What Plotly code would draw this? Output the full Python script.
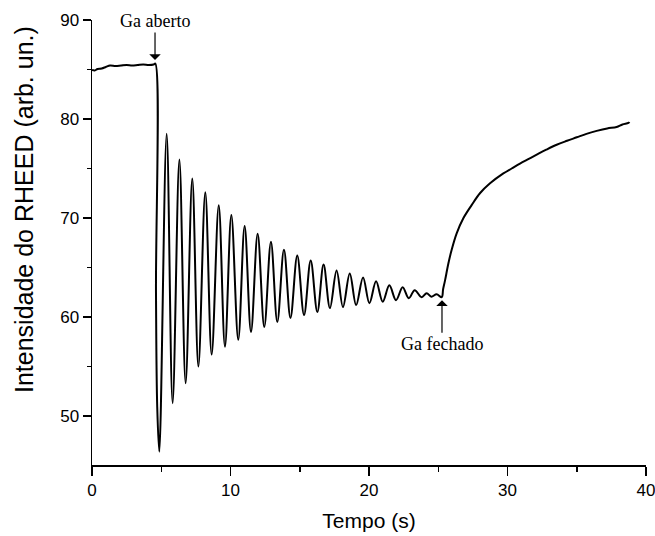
import plotly.graph_objects as go

# ---- data ----
plateau_t = [0.0, 0.2, 0.4, 0.7, 1.0, 1.3, 1.7, 2.1, 2.5, 2.9, 3.3, 3.7, 4.1, 4.45, 4.57]
plateau_i = [84.95, 84.9, 85.05, 85.1, 85.25, 85.4, 85.35, 85.4, 85.45, 85.4, 85.45, 85.5, 85.45, 85.5, 85.6]

osc_t = [4.62, 4.71, 4.86, 5.39, 5.82, 6.31, 6.76, 7.24, 7.68, 8.18, 8.64, 9.15, 9.60,
         10.06, 10.56, 11.02, 11.48, 11.96, 12.44, 12.92, 13.38, 13.86, 14.33, 14.82,
         15.31, 15.79, 16.27, 16.72, 17.18, 17.66, 18.12, 18.61, 19.07, 19.57, 20.03,
         20.51, 20.99, 21.47, 21.95, 22.43, 22.87, 23.30, 23.80, 24.16, 24.50, 24.88, 25.25]
osc_i = [62.4, 50.9, 46.4, 78.5, 51.3, 75.9, 53.3, 74.0, 55.0, 72.6, 56.2, 71.3, 57.0,
         70.3, 57.7, 69.2, 58.5, 68.4, 59.0, 67.6, 59.5, 66.8, 59.9, 66.2,
         60.2, 65.7, 60.5, 65.3, 60.9, 64.7, 61.0, 64.4, 61.2, 64.0, 61.4,
         63.6, 61.55, 63.2, 61.7, 63.0, 61.9, 62.7, 62.0, 62.4, 62.05, 62.3, 62.0]

recovery_t = [25.35, 25.49, 25.73, 25.97, 26.33, 26.81, 27.41, 28.01, 28.74, 29.70, 30.3,
              30.90, 31.5, 32.11, 32.8, 33.55, 34.3, 35.0, 35.7, 36.44, 37.2, 37.88,
              38.3, 38.73, 38.8]
recovery_i = [62.8, 63.7, 65.4, 66.8, 68.45, 69.97, 71.3, 72.5, 73.5, 74.5, 75.0,
              75.5, 75.95, 76.4, 76.9, 77.4, 77.8, 78.15, 78.5, 78.8, 79.05, 79.2,
              79.45, 79.6, 79.7]

x_ticks = [0, 10, 20, 30, 40]
y_ticks = [50, 60, 70, 80, 90]

time_s = plateau_t + osc_t + recovery_t
intensity = plateau_i + osc_i + recovery_i

fig = go.Figure()
fig.add_trace(go.Scatter(
    x=time_s, y=intensity, mode="lines",
    line=dict(color="black", width=2, shape="spline", smoothing=1.0),
    showlegend=False, hoverinfo="skip"))

serif = "Liberation Serif, Times New Roman, serif"
sans = "Liberation Sans, Arial, sans-serif"

fig.add_annotation(x=4.55, y=85.96, xref="x", yref="y", text="Ga aberto",
                   showarrow=True, ax=0, ay=-39, arrowhead=1, arrowsize=1.6,
                   arrowwidth=1.2, arrowcolor="black",
                   font=dict(family=serif, size=18, color="black"))
fig.add_annotation(x=25.27, y=61.7, xref="x", yref="y", text="Ga fechado",
                   showarrow=True, ax=0, ay=44, arrowhead=1, arrowsize=1.6,
                   arrowwidth=1.2, arrowcolor="black",
                   font=dict(family=serif, size=18, color="black"))
fig.add_annotation(xref="paper", yref="paper", x=0, y=0.573, xshift=-68,
                   text="Intensidade do RHEED (arb. un.)", textangle=-90,
                   showarrow=False, xanchor="center", yanchor="middle",
                   font=dict(family=sans, size=25, color="black"))

fig.update_layout(
    template="none",
    width=655, height=536,
    margin=dict(l=92, r=9, t=20, b=71, autoexpand=False),
    paper_bgcolor="white", plot_bgcolor="white",
    font=dict(family=sans, color="black"),
    xaxis=dict(range=[0, 40], tickvals=x_ticks, showgrid=False, zeroline=False,
               automargin=False, ticklabeloverflow="allow",
               showline=True, linecolor="black", linewidth=1.5,
               ticks="outside", ticklen=9, tickwidth=1.5, tickcolor="black",
               minor=dict(dtick=5, tick0=0, ticks="outside", ticklen=5,
                          tickwidth=1.5, tickcolor="black", showgrid=False),
               tickfont=dict(family=sans, size=17, color="black"),
               title=dict(text="Tempo (s)", standoff=14,
                          font=dict(family=sans, size=21, color="black"))),
    yaxis=dict(range=[45.05, 90], tickvals=y_ticks, showgrid=False, zeroline=False,
               automargin=False, ticklabeloverflow="allow",
               showline=True, linecolor="black", linewidth=1.5,
               ticks="outside", ticklen=8, tickwidth=1.5, tickcolor="black",
               minor=dict(dtick=5, tick0=0, ticks="outside", ticklen=4,
                          tickwidth=1.5, tickcolor="black", showgrid=False),
               tickfont=dict(family=sans, size=17, color="black")),
)

fig.write_html("out.html",
               config={"displayModeBar": False, "staticPlot": True},
               post_script="document.body.style.margin='0';document.body.style.overflow='hidden';")
